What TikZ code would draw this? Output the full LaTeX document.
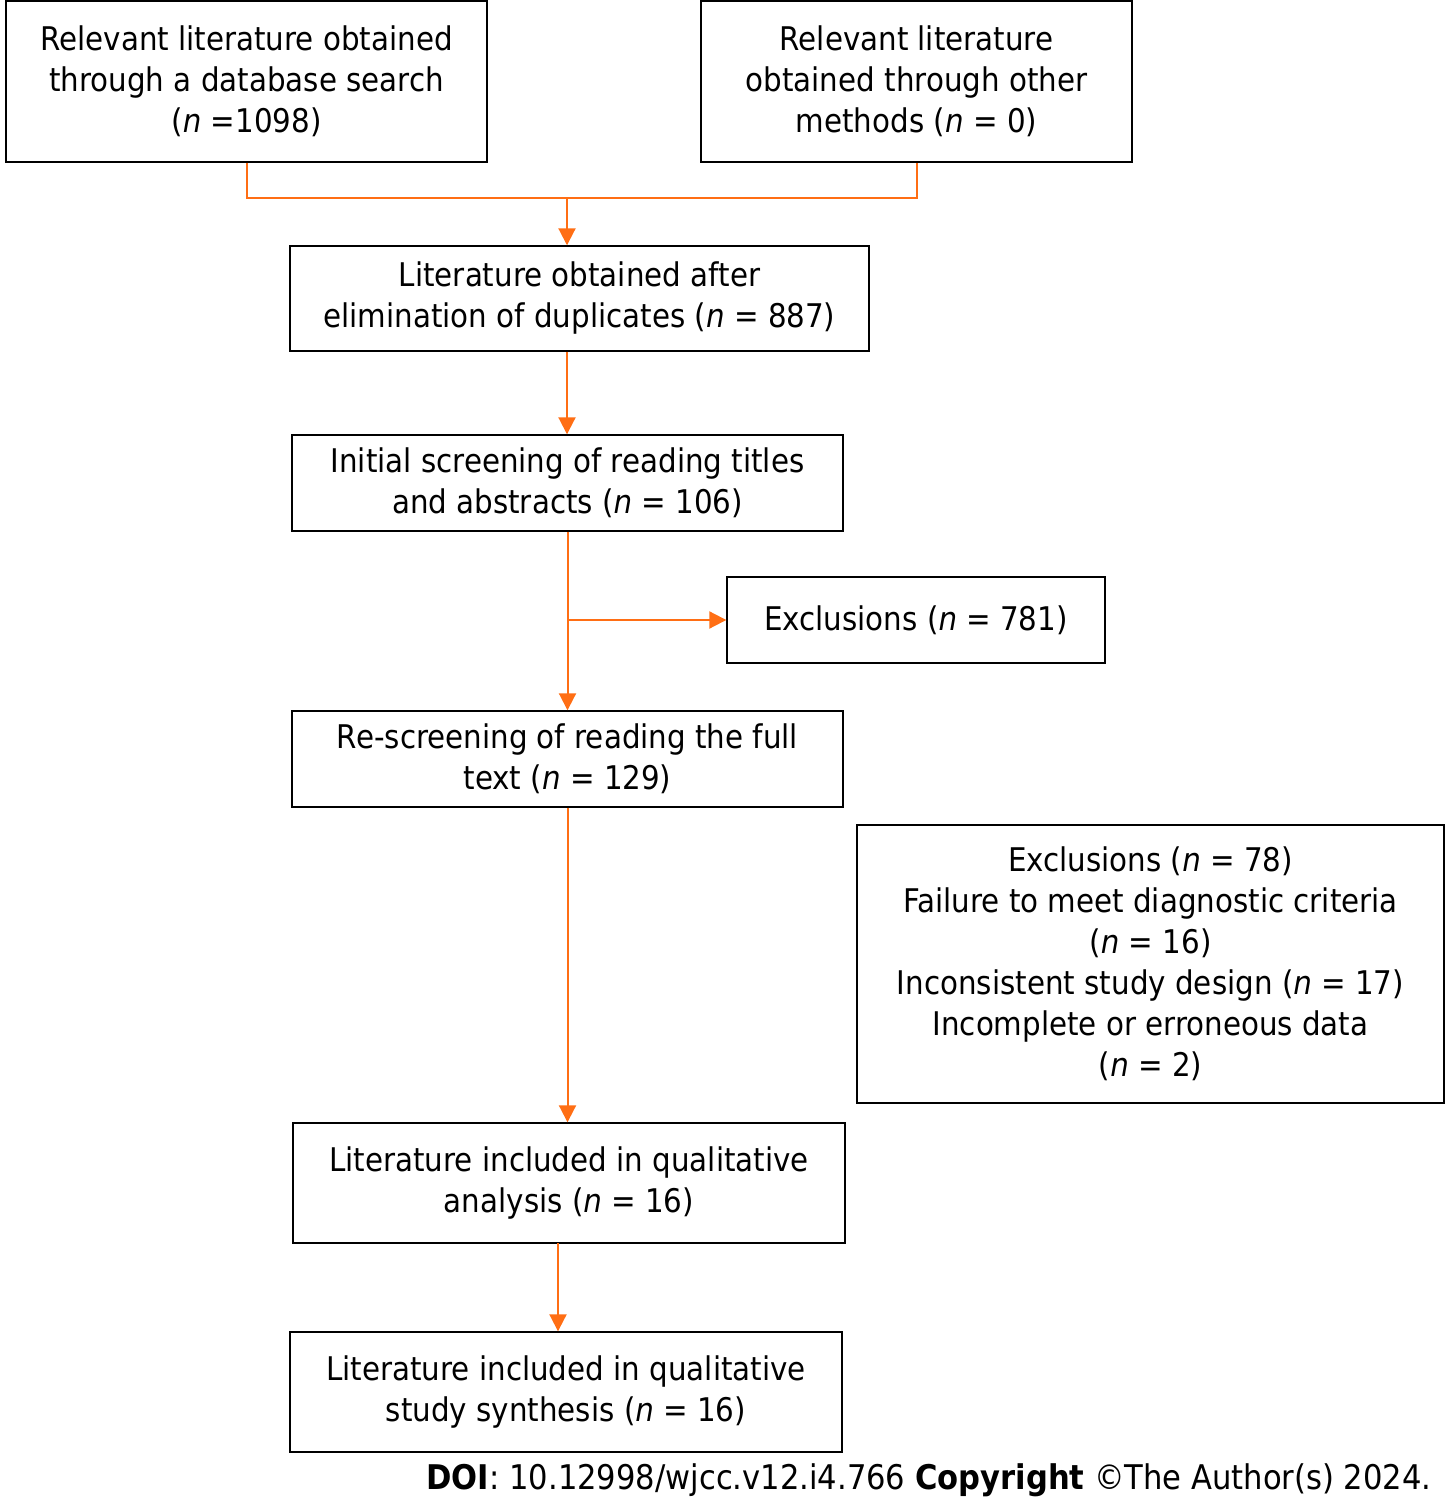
\documentclass[tikz,border=0pt]{standalone}
\usepackage{fontspec}
\setmainfont{DejaVu Sans}[FakeStretch=0.9]
\usepackage{tikz}
\usetikzlibrary{arrows.meta}
\definecolor{flow}{RGB}{255,110,20}
\newcommand{\nn}{\textit{n}}

\begin{document}
\begin{tikzpicture}
		[
			x=0.5pt, y=-0.5pt,
			box/.style = {rectangle, align=center, draw=black, fill=none, line width=0.7pt, inner sep=0pt, font=\fontsize{16.3}{20.5}\selectfont},
			link/.style = {draw=flow, line width=1pt},
			arr/.style = {link, -{Triangle[length=8.5pt,width=8.5pt]}},
		]
		\useasboundingbox (0,0) rectangle (1454,1507);

		% boxes
		\node[box, minimum width=240.5pt, minimum height=80.5pt] (a) at (246.5, 81.5) {Relevant literature obtained\\through a database search\\(\nn{} =1098)};
		\node[box, minimum width=215.5pt, minimum height=80.5pt] (b) at (916.5, 81.5) {Relevant literature\\obtained through other\\methods (\nn{} = 0)};
		\node[box, minimum width=289.5pt, minimum height=52.5pt] (c) at (579.5, 298.5) {Literature obtained after\\elimination of duplicates (\nn{} = 887)};
		\node[box, minimum width=275.5pt, minimum height=48pt] (d) at (567.5, 483) {Initial screening of reading titles\\and abstracts (\nn{} = 106)};
		\node[box, minimum width=189pt, minimum height=43pt] (e) at (916, 620) {Exclusions (\nn{} = 781)};
		\node[box, minimum width=275.5pt, minimum height=48pt] (f) at (567.5, 759) {Re-screening of reading the full\\text (\nn{} = 129)};
		\node[box, minimum width=293.5pt, minimum height=139pt] (g) at (1150.5, 964) {Exclusions (\nn{} = 78)\\Failure to meet diagnostic criteria\\(\nn{} = 16)\\Inconsistent study design (\nn{} = 17)\\Incomplete or erroneous data\\(\nn{} = 2)};
		\node[box, minimum width=276pt, minimum height=60pt] (h) at (569, 1183) {Literature included in qualitative\\analysis (\nn{} = 16)};
		\node[box, minimum width=276pt, minimum height=60pt] (i) at (566, 1392) {Literature included in qualitative\\study synthesis (\nn{} = 16)};

		% joints
		\coordinate (j) at (567, 198);
		\coordinate (k) at (567.5, 620);
		\coordinate (m) at (558, 1243);

		% connectors
		\draw[link] (a.south) |- (j) -| (b.south);
		\draw[arr] (j) -- (j |- c.north);
		\draw[arr] (c.south -| j) -- (j |- d.north);
		\draw[arr] (d.south) -- (f.north);
		\draw[arr] (k) -- (e.west);
		\draw[arr] (f.south) -- (f.south |- h.north);
		\draw[arr] (m) -- (m |- i.north);

		% footer
		\node[anchor=east, inner sep=0pt, font=\fontsize{17}{20.5}\selectfont] (doi) at (1432, 1480) {\textbf{DOI}: 10.12998/wjcc.v12.i4.766 \textbf{Copyright} ©The Author(s) 2024.};

\end{tikzpicture}
\end{document}
